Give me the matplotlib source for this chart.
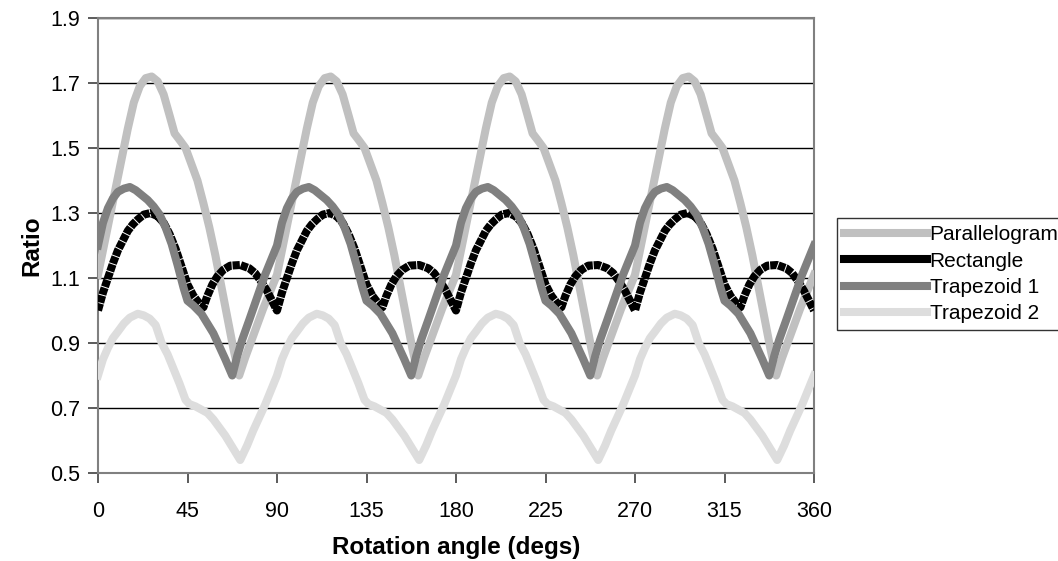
import numpy as np
import matplotlib.pyplot as plt
from matplotlib.lines import Line2D

plt.rcParams['font.family'] = ['Liberation Sans', 'DejaVu Sans']

# one 90-degree period (the curves repeat every 90 degs)
para_ang = [0, 3, 6, 9, 12, 15, 18, 21, 24, 27, 30, 33, 36, 38.5, 41, 44, 47, 50, 53, 56, 59, 62, 65, 68, 71,
            74, 77, 80, 83, 86, 88]
para_val = [1.11, 1.20, 1.29, 1.38, 1.47, 1.56, 1.64, 1.69, 1.715, 1.72, 1.705, 1.665, 1.60, 1.545, 1.525, 1.50,
            1.45, 1.40, 1.33, 1.255, 1.17, 1.075, 0.98, 0.885, 0.80, 0.855, 0.905, 0.955, 1.005, 1.05, 1.08]

rect_ang = [0, 2.5, 5, 7.5, 10, 12.5, 15, 17.5, 20, 23, 26.5, 30, 33, 36, 39, 42, 45, 48, 50.5, 53, 55, 57.5, 60,
            63, 66.5, 71.5, 76, 79, 82, 85, 87.5]
rect_val = [1.00, 1.055, 1.10, 1.145, 1.185, 1.215, 1.245, 1.265, 1.28, 1.295, 1.30, 1.29, 1.27, 1.235, 1.19, 1.135,
            1.08, 1.045, 1.025, 1.01, 1.045, 1.08, 1.105, 1.125, 1.138, 1.14, 1.13, 1.115, 1.09, 1.06, 1.03]

trap1_ang = [0, 2.5, 5, 7.5, 10, 13, 16, 19, 22, 25, 28, 31, 34, 37, 40, 43, 45, 48, 52, 55, 58, 61, 64, 67.5,
             70, 72.5, 76, 80, 84, 88]
trap1_val = [1.20, 1.27, 1.315, 1.345, 1.365, 1.375, 1.38, 1.37, 1.355, 1.34, 1.32, 1.295, 1.255, 1.205, 1.14, 1.07,
             1.03, 1.015, 0.99, 0.96, 0.93, 0.89, 0.85, 0.80, 0.86, 0.91, 0.97, 1.04, 1.11, 1.17]

trap2_ang = [0, 2.5, 5, 7.5, 10, 13, 16, 20, 23, 26, 29, 32, 35, 38, 41, 44, 46, 49, 52, 55, 58, 61, 64, 67, 69.5,
             71.5, 75, 78, 81, 84, 87]
trap2_val = [0.80, 0.85, 0.885, 0.915, 0.935, 0.96, 0.978, 0.99, 0.985, 0.975, 0.955, 0.90, 0.865, 0.82, 0.775,
             0.725, 0.712, 0.705, 0.695, 0.685, 0.665, 0.64, 0.615, 0.585, 0.56, 0.54, 0.585, 0.63, 0.67, 0.71, 0.755]

names = ['Parallelogram', 'Rectangle', 'Trapezoid 1', 'Trapezoid 2']
colors = ['#c0c0c0', '#000000', '#808080', '#dddddd']
yticks = [0.5, 0.7, 0.9, 1.1, 1.3, 1.5, 1.7, 1.9]
xticks = [0, 45, 90, 135, 180, 225, 270, 315, 360]


def full_turn(ang, val):
    xs = [a + 90 * k for k in range(4) for a in ang] + [360]
    ys = list(val) * 4 + [val[0]]
    return xs, ys


fig = plt.figure(figsize=(10.58, 5.61), dpi=100)
ax = fig.add_axes([98 / 1058, 1 - 473 / 561, 716 / 1058, 455 / 561])

series = [(para_ang, para_val), (rect_ang, rect_val), (trap1_ang, trap1_val), (trap2_ang, trap2_val)]
for i, (ang, val) in enumerate(series):
    xs, ys = full_turn(ang, val)
    if names[i] == 'Rectangle':
        ax.plot(xs, ys, color=colors[i], lw=5.8, dashes=(0.9, 0.12), zorder=3 + i, solid_capstyle='butt')
    else:
        ax.plot(xs, ys, color=colors[i], lw=5.8, zorder=3 + i, solid_joinstyle='round')

ax.set_xlim(0, 360)
ax.set_ylim(0.5, 1.9)
ax.set_xticks(xticks)
ax.set_yticks(yticks)
ax.set_yticklabels([f'{t:.1f}' for t in yticks])
ax.yaxis.grid(True, color='black', lw=1)
ax.set_axisbelow(True)
for s in ax.spines.values():
    s.set_color('#808080')
    s.set_linewidth(1.5)
ax.tick_params(direction='out', length=7, width=1.2, color='#404040', labelsize=15.5)
ax.tick_params(axis='x', pad=13)
ax.tick_params(axis='y', pad=6)

ax.set_xlabel('Rotation angle (degs)', fontsize=17.5, fontweight='bold', labelpad=10)
ax.set_ylabel('Ratio', fontsize=17.5, fontweight='bold', labelpad=5)

handles = [Line2D([], [], color=c, lw=5.8) for c in colors]
leg = fig.legend(handles, names, loc='upper left', bbox_to_anchor=(837 / 1058, 1 - 218 / 561),
                 fontsize=15, frameon=True, fancybox=False, edgecolor='black', handlelength=3.95,
                 handletextpad=0.15, labelspacing=0.35, borderpad=0.35, borderaxespad=0)
leg.get_frame().set_linewidth(1.0)

fig.savefig('out.png', dpi=100)
